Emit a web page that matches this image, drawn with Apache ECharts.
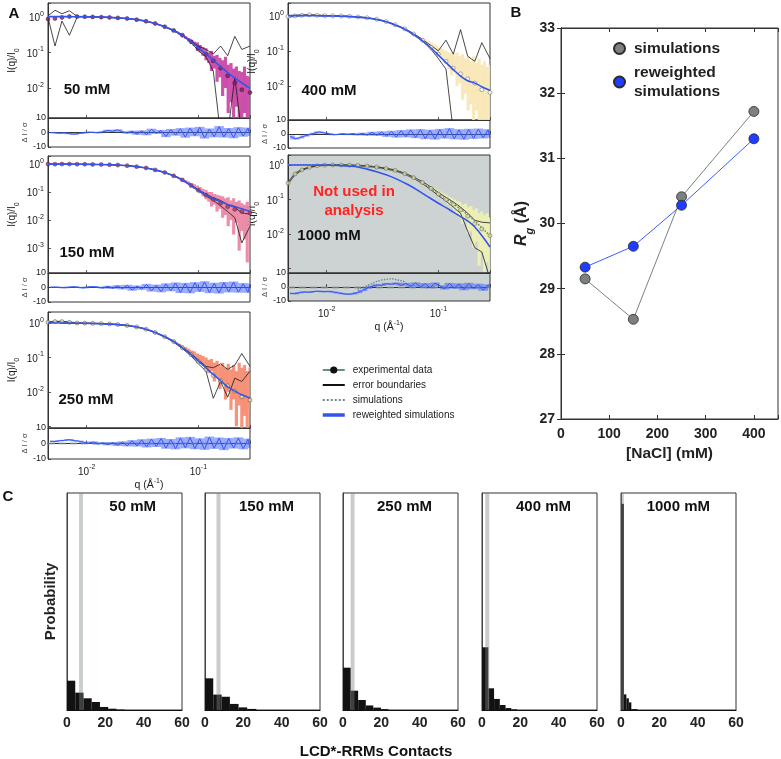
<!DOCTYPE html>
<html><head><meta charset="utf-8">
<script src="https://cdn.jsdelivr.net/npm/echarts/dist/echarts.min.js"></script>
<style>html,body{margin:0;padding:0;background:#fff}#c{width:781px;height:759px}</style>
</head><body><div id="c"></div>
<script>
// ================= DATA =================
// Panel A: q grids (Å^-1)
const qL = [0.0045,0.0052,0.006,0.007,0.0082,0.0096,0.0113,0.0135,0.016,0.019,0.023,0.028,0.034,0.041,0.05,0.06,0.072,0.086,0.1,0.117,0.136,0.158,0.183,0.212,0.245,0.29];
const qB = [0.060,0.064,0.068,0.072,0.077,0.082,0.087,0.092,0.098,0.104,0.110,0.117,0.124,0.131,0.139,0.147,0.156,0.165,0.175,0.185,0.196,0.207,0.219,0.232,0.245,0.259,0.274,0.29];
const qR = [0.0047,0.0052,0.0057,0.0063,0.0070,0.0077,0.0085,0.0094,0.0104,0.0115,0.0127,0.0140,0.0155,0.0171,0.0189,0.0209,0.0231,0.0255,0.0282,0.0311,0.0344,0.0380,0.0420,0.0464,0.0512,0.0566,0.0625,0.0690,0.0763,0.0843,0.0931,0.1029,0.1136,0.1255,0.1387,0.1532,0.1692,0.1870,0.2065,0.2282,0.2521,0.2785,0.29];
const concLabels = ['50 mM','150 mM','250 mM','400 mM','1000 mM'];

// reweighted simulations I(q)/I0 on qL
const fit50   = [1.0,1.0,1.0,0.995,0.99,0.985,0.975,0.965,0.95,0.92,0.88,0.82,0.74,0.64,0.52,0.41,0.3,0.2,0.135,0.09,0.06,0.04,0.027,0.019,0.014,0.0097];
const fit150  = [1.0,1.0,1.0,0.995,0.99,0.985,0.975,0.965,0.95,0.92,0.88,0.81,0.73,0.62,0.5,0.38,0.27,0.17,0.115,0.078,0.057,0.045,0.036,0.03,0.025,0.02];
const fit250  = [1.0,1.0,0.995,0.99,0.985,0.98,0.97,0.955,0.93,0.9,0.85,0.77,0.66,0.53,0.4,0.29,0.19,0.12,0.078,0.05,0.032,0.021,0.014,0.0105,0.0082,0.0066];
const fit400  = [1.0,1.0,1.0,0.995,0.99,0.985,0.975,0.96,0.94,0.91,0.86,0.78,0.67,0.54,0.41,0.29,0.19,0.12,0.075,0.046,0.029,0.019,0.014,0.012,0.0095,0.0075];
const fit1000 = [1.0,1.0,1.0,1.0,0.995,0.99,0.98,0.96,0.93,0.88,0.76,0.64,0.52,0.41,0.3,0.22,0.15,0.105,0.078,0.058,0.043,0.032,0.024,0.016,0.009,0.0042];
// simulations (1000 mM, where visible)
const sim1000 = [1.0,1.0,1.0,1.0,1.0,0.995,0.99,0.98,0.965,0.94,0.9,0.84,0.76,0.66,0.54,0.42,0.31,0.215,0.15,0.105,0.075,0.053,0.036,0.024,0.015,0.009];
// experimental data on qL
const exp50   = [0.85,0.88,0.95,1.0,1.0,0.99,0.98,0.965,0.95,0.92,0.88,0.82,0.74,0.64,0.52,0.41,0.3,0.2,0.13,0.088,0.058,0.036,0.022,0.014,0.009,0.0075];
const exp150  = [1.0,0.99,1.0,1.0,0.99,0.985,0.975,0.965,0.95,0.92,0.88,0.81,0.73,0.62,0.5,0.38,0.27,0.17,0.115,0.078,0.055,0.04,0.03,0.024,0.02,0.018];
const exp250  = [1.05,1.1,1.1,1.05,1.0,0.99,0.98,0.96,0.94,0.9,0.85,0.77,0.66,0.53,0.4,0.29,0.19,0.12,0.075,0.045,0.03,0.021,0.015,0.0105,0.0072,0.0058];
const exp400  = [0.95,0.98,1.02,1.05,1.02,1.0,0.99,0.975,0.955,0.92,0.87,0.79,0.68,0.55,0.42,0.3,0.2,0.125,0.08,0.05,0.032,0.022,0.016,0.012,0.0078,0.0065];
const exp1000 = [0.3,0.55,0.72,0.86,0.95,0.99,1.0,1.0,0.99,0.97,0.93,0.87,0.79,0.7,0.56,0.43,0.31,0.21,0.145,0.1,0.072,0.05,0.033,0.02,0.014,0.009];
// error boundaries on qL
const errU50   = [1.05,1.5,1.2,1.45,1.02,1.0,0.99,0.975,0.96,0.93,0.89,0.83,0.75,0.65,0.53,0.42,0.31,0.21,0.15,0.12,0.09,0.15,0.08,0.28,0.12,0.15];
const errL50   = [0.95,0.15,0.75,0.3,0.97,0.98,0.97,0.955,0.94,0.91,0.87,0.81,0.73,0.63,0.51,0.4,0.29,0.19,0.11,0.075,0.03,0.0005,0.0005,0.02,0.0005,0.0005];
const errU150  = [1.02,1.01,1.0,1.0,0.995,0.99,0.98,0.97,0.955,0.925,0.885,0.815,0.735,0.625,0.505,0.385,0.275,0.18,0.12,0.085,0.062,0.05,0.035,0.028,0.018,0.016];
const errL150  = [0.98,0.99,0.99,0.99,0.985,0.98,0.97,0.96,0.945,0.915,0.875,0.805,0.725,0.615,0.495,0.375,0.265,0.165,0.11,0.072,0.05,0.032,0.02,0.012,0.0015,0.006];
const errU250  = [1.1,1.12,1.12,1.07,1.02,1.0,0.99,0.97,0.95,0.91,0.86,0.78,0.67,0.54,0.41,0.3,0.2,0.13,0.085,0.055,0.05,0.065,0.045,0.06,0.13,0.055];
const errL250  = [1.0,1.08,1.08,1.03,0.98,0.98,0.97,0.95,0.93,0.89,0.84,0.76,0.65,0.52,0.39,0.28,0.18,0.11,0.065,0.04,0.0065,0.02,0.007,0.025,0.02,0.04];
const errU400  = [1.0,1.02,1.05,1.07,1.04,1.02,1.0,0.985,0.965,0.93,0.88,0.8,0.69,0.56,0.43,0.31,0.21,0.14,0.1,0.2,0.08,0.4,0.07,0.05,0.17,0.06];
const errL400  = [0.9,0.95,1.0,1.03,1.0,0.98,0.98,0.965,0.945,0.91,0.86,0.78,0.67,0.54,0.41,0.29,0.19,0.11,0.06,0.03,0.0005,0.0005,0.0005,0.0005,0.0005,0.0005];
const errU1000 = [0.32,0.58,0.75,0.88,0.97,1.01,1.02,1.02,1.01,0.99,0.95,0.89,0.81,0.72,0.58,0.45,0.33,0.23,0.16,0.115,0.085,0.06,0.04,0.025,0.022,0.021];
const errL1000 = [0.28,0.52,0.7,0.84,0.93,0.97,0.98,0.98,0.97,0.95,0.91,0.85,0.77,0.68,0.54,0.41,0.29,0.19,0.13,0.09,0.06,0.04,0.012,0.004,0.003,0.0005];
// experimental error band (high q) on qB
const hi50   = [0.43,0.39,0.35,0.32,0.28,0.25,0.22,0.2,0.19,0.16,0.14,0.13,0.1,0.11,0.08,0.085,0.07,0.06,0.075,0.045,0.05,0.035,0.04,0.03,0.028,0.04,0.022,0.02];
const lo50   = [0.39,0.35,0.31,0.28,0.24,0.2,0.17,0.15,0.11,0.1,0.08,0.06,0.05,0.03,0.035,0.015,0.02,0.006,0.01,0.002,0.004,0.001,0.003,0.001,0.001,0.002,0.001,0.001];
const hi150  = [0.4,0.37,0.33,0.3,0.27,0.24,0.21,0.19,0.17,0.15,0.13,0.12,0.1,0.1,0.085,0.08,0.075,0.07,0.06,0.065,0.05,0.06,0.045,0.05,0.04,0.035,0.045,0.03];
const lo150  = [0.36,0.33,0.29,0.25,0.22,0.19,0.16,0.13,0.11,0.09,0.07,0.055,0.045,0.03,0.035,0.02,0.025,0.012,0.015,0.006,0.01,0.003,0.008,0.0008,0.004,0.002,0.0003,0.006];
const hi250  = [0.3,0.27,0.25,0.22,0.2,0.18,0.16,0.15,0.13,0.12,0.11,0.1,0.085,0.09,0.07,0.08,0.06,0.07,0.05,0.065,0.045,0.06,0.04,0.07,0.05,0.06,0.04,0.05];
const lo250  = [0.27,0.24,0.21,0.18,0.16,0.14,0.12,0.1,0.085,0.07,0.06,0.045,0.035,0.04,0.02,0.025,0.012,0.018,0.006,0.01,0.003,0.006,0.001,0.004,0.0008,0.002,0.0009,0.003];
const hi400  = [0.31,0.28,0.26,0.23,0.21,0.19,0.17,0.15,0.14,0.12,0.11,0.1,0.09,0.085,0.08,0.09,0.07,0.08,0.06,0.07,0.05,0.07,0.045,0.06,0.04,0.05,0.035,0.04];
const lo400  = [0.28,0.25,0.22,0.2,0.17,0.15,0.13,0.11,0.09,0.075,0.06,0.045,0.03,0.02,0.025,0.01,0.012,0.004,0.006,0.002,0.003,0.0008,0.002,0.0006,0.001,0.0006,0.0008,0.0006];
const hi1000 = [0.45,0.41,0.37,0.33,0.3,0.27,0.24,0.21,0.19,0.17,0.15,0.14,0.12,0.11,0.1,0.09,0.085,0.07,0.075,0.06,0.065,0.05,0.055,0.04,0.045,0.035,0.04,0.03];
const lo1000 = [0.41,0.37,0.33,0.29,0.26,0.23,0.2,0.17,0.15,0.13,0.1,0.09,0.07,0.06,0.05,0.04,0.03,0.02,0.025,0.01,0.012,0.004,0.006,0.0012,0.003,0.0008,0.0015,0.0008];
// residuals ΔI/σ on qR
const res50   = [0,-0.2,-0.5,-0.3,-0.8,-1.2,-0.6,-0.3,0.2,0.1,-0.2,0.5,1.5,0.8,1.8,0.5,-0.4,0.9,-1.2,1.1,-1.5,2.2,-0.6,1.4,-2.8,2.0,-1.8,2.6,-3.2,3.0,-2.2,3.5,-3.8,2.4,-2.9,4.0,-3.1,2.7,-3.6,3.3,-2.5,3.0,-2.0];
const res150  = [0.2,0.3,0.1,-0.2,0.3,0.5,0.1,-0.3,0.4,0.6,0.2,-0.4,0.8,-0.6,1.2,-0.9,1.5,-1.8,1.0,-1.2,2.1,-2.4,1.6,-2.9,2.5,-2.2,3.1,-3.4,2.8,-3.6,3.3,-2.7,3.9,-3.5,2.9,-3.8,3.4,-3.0,3.7,-3.2,2.6,-3.3,2.4];
const res250  = [1.5,1.2,1.8,2.0,2.5,1.8,1.5,0.8,0.2,1.0,-0.3,0.5,-0.8,0.6,-1.2,1.0,-1.5,1.8,-1.6,2.4,-2.2,2.8,-1.9,3.2,-3.0,2.5,-3.4,3.6,-2.8,3.9,-3.3,3.0,-3.7,4.1,-3.1,3.5,-3.9,3.2,-2.9,3.6,-3.4,2.8,-2.6];
const res400  = [-1.5,-3.5,-2.8,-1.5,-0.5,0.5,1.5,0.8,0.2,-0.5,-0.3,0.2,-0.4,0.3,-0.6,0.5,-0.8,1.2,-0.9,1.5,-1.6,1.9,-2.2,2.4,-2.0,2.9,-2.6,3.1,-3.3,2.7,-3.6,3.2,-2.9,3.8,-3.4,3.0,-3.7,3.3,-3.1,3.5,-2.8,3.0,-2.4];
const res1000 = [-4.5,-4.8,-4.0,-3.5,-3.8,-3.2,-3.0,-3.4,-3.1,-3.6,-4.2,-4.8,-5.2,-4.9,-4.0,-2.5,-0.8,0.5,1.5,1.2,2.5,1.8,2.8,1.2,2.6,0.5,2.9,0.2,2.4,-0.6,2.8,0.9,-1.4,2.5,-0.8,2.2,-1.9,2.6,-1.2,1.9,-2.3,1.5,0.6];
const resSim1000 = [null,null,null,null,null,null,null,null,null,null,null,null,null,null,-1.5,-0.5,1.0,2.5,4.0,5.0,5.5,6.0,5.2,4.5,3.5,null,null,null,null,null,null,null,null,null,null,null,null,null,null,null,null,null,null];

// Panel B
const nacl  = [50,150,250,400];
const rgSim = [29.15,28.53,30.41,31.72];
const rgRew = [29.33,29.65,30.28,31.3];

// Panel C: histogram bin edges, probabilities, highlighted band
const hEdges50   = [0,4.3,8.6,12.9,17.2,21.5,25.8,30.1];
const hProb50    = [0.135,0.08,0.054,0.037,0.014,0.006,0.002];
const hEdges150  = [0,4.3,8.65,13,17.5,22,26.8];
const hProb150   = [0.146,0.071,0.061,0.028,0.012,0.005];
const hEdges250  = [0,4,7.9,11.9,15.8,19.8,23.7];
const hProb250   = [0.195,0.089,0.046,0.021,0.011,0.004];
const hEdges400  = [0,3.3,6.3,9.3,12.3,15.3,18.3];
const hProb400   = [0.289,0.1,0.051,0.023,0.009,0.003];
const hEdges1000 = [0,1.5,2.8,4.1,5.4,8.6];
const hProb1000  = [0.95,0.072,0.054,0.035,0.004];
const hBand      = [[6.3,8.3],[6.0,8.1],[4.0,6.0],[1.7,3.8],[0,1.5]];
const contactTicks = [0,20,40,60];

// ================= LAYOUT / STYLE =================
const FF = "'Liberation Sans', Arial, Helvetica, sans-serif";
const panelsA = [
  {fit:fit50, exp:exp50, eu:errU50, el:errL50, hi:hi50, lo:lo50, res:res50},
  {fit:fit150, exp:exp150, eu:errU150, el:errL150, hi:hi150, lo:lo150, res:res150},
  {fit:fit250, exp:exp250, eu:errU250, el:errL250, hi:hi250, lo:lo250, res:res250},
  {fit:fit400, exp:exp400, eu:errU400, el:errL400, hi:hi400, lo:lo400, res:res400},
  {fit:fit1000, exp:exp1000, eu:errU1000, el:errL1000, hi:hi1000, lo:lo1000, res:res1000}
];
const layA = [
  {l:48, t:3,   h:115, rt:118, rh:29, ymin:0.00145, ymax:2.4,  minExp:-2, lx:87,  ly:90},
  {l:48, t:156, h:117, rt:273, rh:29, ymin:0.000126,ymax:1.95, minExp:-3, lx:87,  ly:253},
  {l:48, t:312, h:116, rt:428, rh:31, ymin:0.00089, ymax:2.09, minExp:-2, lx:86,  ly:400},
  {l:288,t:3,   h:117, rt:120, rh:28, ymin:0.00107, ymax:2.29, minExp:-2, lx:329, ly:91},
  {l:288,t:155, h:118, rt:273, rh:28, ymin:0.00074, ymax:1.95, minExp:-2, lx:329, ly:236}
];
const styA = [
  {band:'#c63fa2', dot:'#7d2060', dotB:'#4a1040'},
  {band:'#ea82a0', dot:'#a83a5a', dotB:'#6a2030'},
  {band:'#f6876c', dot:'#ecdf92', dotB:'#444'},
  {band:'#f8e7b2', dot:'#ffffff', dotB:'#555'},
  {band:'#eef2b2', dot:'#dcdc98', dotB:'#555'}
];
const cLefts = [67,205,343,482,621];
const hists = [[hEdges50,hProb50],[hEdges150,hProb150],[hEdges250,hProb250],[hEdges400,hProb400],[hEdges1000,hProb1000]];

function powLabelFrom(minExp){
  return function(v){
    const e = Math.log10(v), r = Math.round(e);
    if (Math.abs(e - r) > 1e-6 || r < minExp) return '';
    return '{b|10}{s|' + r + '}';
  };
}
const supRich = {
  b:{fontSize:10, fontFamily:FF, color:'#222', lineHeight:13, verticalAlign:'bottom'},
  s:{fontSize:7, fontFamily:FF, color:'#222', lineHeight:7, verticalAlign:'top'}
};
function clipTo(r, cs){
  return echarts.graphic.clipRectByRect(r, {x:cs.x, y:cs.y, width:cs.width, height:cs.height});
}
function bandItem(params, api){
  const q = api.value(0), lo = api.value(1), hi = api.value(2);
  const p1 = api.coord([q, hi]), p2 = api.coord([q, lo]);
  const r = clipTo({x:p1[0]-1.6, y:p1[1], width:3.2, height:p2[1]-p1[1]}, params.coordSys);
  return r ? {type:'rect', shape:r, style:{fill:api.visual('color'), opacity:0.9}} : null;
}
// fuzz between consecutive residual points
function fuzzItem(params, api){
  const x0 = api.value(0), x1 = api.value(1), a = api.value(2), b = api.value(3);
  const p = api.coord([x0, Math.max(a, b)]), q = api.coord([x1, Math.min(a, b)]);
  const r = clipTo({x:p[0], y:p[1]-0.6, width:q[0]-p[0], height:q[1]-p[1]+1.2}, params.coordSys);
  return r ? {type:'rect', shape:r, style:{fill:api.visual('color')}} : null;
}
function rectItem(params, api){
  const a = api.coord([api.value(0), api.value(2)]);
  const b = api.coord([api.value(1), 0]);
  return {type:'rect', shape:{x:a[0], y:a[1], width:b[0]-a[0], height:b[1]-a[1]}, style:{fill:api.visual('color')}};
}

const grid = [], xAxis = [], yAxis = [], series = [], graphic = [];
const tickIn = {show:true, inside:true, length:3, lineStyle:{color:'#333', width:0.8}};
const lineAx = {show:true, lineStyle:{color:'#333', width:1}};

// ---- Panel A grids/axes ----
layA.forEach((L, i) => {
  const gray = i === 4;
  grid.push({left:L.l, top:L.t, width:202, height:L.h, show:true, borderColor:'#333', borderWidth:1,
             backgroundColor: gray ? '#cdd3d2' : 'transparent', outerBoundsMode:'none'});
  grid.push({left:L.l, top:L.rt, width:202, height:L.rh, show:true, borderColor:'#333', borderWidth:1,
             backgroundColor: gray ? '#cdd3d2' : 'transparent', outerBoundsMode:'none'});
  const gm = 2*i, gr = 2*i+1;
  xAxis.push({type:'log', gridIndex:gm, min:0.0045, max:0.29, axisLine:lineAx, axisTick:tickIn,
              axisLabel:{show:false}, splitLine:{show:false}});
  const bottom = (i === 2 || i === 4);
  xAxis.push({type:'log', gridIndex:gr, min:0.0045, max:0.29, axisLine:lineAx, axisTick:tickIn,
              axisLabel:{show:bottom, formatter:powLabelFrom(-9), rich:supRich, margin:5},
              splitLine:{show:false},
              name: bottom ? '{n|q (Å}{s|-1}{n|)}' : '', nameLocation:'middle', nameGap:15,
              nameTextStyle:{rich:{n:{fontSize:10.5, fontFamily:FF, color:'#222', lineHeight:13, verticalAlign:'bottom'},
                                    s:{fontSize:7, fontFamily:FF, color:'#222', lineHeight:7, verticalAlign:'top'}}}});
  yAxis.push({type:'log', gridIndex:gm, min:L.ymin, max:L.ymax, axisLine:lineAx, axisTick:tickIn,
              axisLabel:{formatter:powLabelFrom(L.minExp), rich:supRich, margin:4}, splitLine:{show:false},
              name:'{n|I(q)/I}{d|0}', nameLocation:'middle', nameRotate:90, nameGap:27,
              nameTextStyle:{rich:{n:{fontSize:10, fontFamily:FF, color:'#222', lineHeight:12, verticalAlign:'top'},
                                    d:{fontSize:7, fontFamily:FF, color:'#222', lineHeight:14, verticalAlign:'bottom'}}}});
  yAxis.push({type:'value', gridIndex:gr, min:-10, max:10, interval:10, axisLine:lineAx, axisTick:tickIn,
              axisLabel:{fontSize:9, fontFamily:FF, color:'#222', margin:2}, splitLine:{show:false},
              name:'Δ I / σ', nameLocation:'middle', nameRotate:90, nameGap:14,
              nameTextStyle:{fontSize:7.5, fontFamily:FF, color:'#444'}});
});

// ---- Panel B grid/axes (index 10) ----
grid.push({left:561, top:28, width:217, height:391, show:true, borderColor:'#333', borderWidth:1, outerBoundsMode:'none'});
xAxis.push({type:'value', gridIndex:10, min:0, max:450, interval:100, axisLine:lineAx,
            axisTick:{show:true, inside:true, length:4, lineStyle:{color:'#333'}},
            axisLabel:{fontSize:14, fontWeight:'bold', fontFamily:FF, color:'#222', margin:8,
                       formatter:v => (v % 100 === 0 ? String(v) : '')},
            splitLine:{show:false}, name:'[NaCl] (mM)', nameLocation:'middle', nameGap:27,
            nameTextStyle:{fontSize:15.5, fontWeight:'bold', fontFamily:FF, color:'#222'}});
yAxis.push({type:'value', gridIndex:10, min:27, max:33, interval:1, axisLine:lineAx,
            axisTick:{show:true, inside:true, length:4, lineStyle:{color:'#333'}},
            axisLabel:{fontSize:14, fontWeight:'bold', fontFamily:FF, color:'#222', margin:6},
            splitLine:{show:false}, name:'{i|R}{g|g}{n| (Å)}', nameLocation:'middle', nameRotate:90, nameGap:25,
            nameTextStyle:{rich:{
              i:{fontSize:16, fontWeight:'bold', fontStyle:'italic', fontFamily:FF, color:'#222', lineHeight:18, verticalAlign:'top'},
              g:{fontSize:11, fontWeight:'bold', fontStyle:'italic', fontFamily:FF, color:'#222', lineHeight:22, verticalAlign:'bottom'},
              n:{fontSize:16, fontWeight:'bold', fontFamily:FF, color:'#222', lineHeight:18, verticalAlign:'top'}}}});

// ---- Panel C grids/axes (11..15) ----
cLefts.forEach((l, i) => {
  grid.push({left:l, top:493, width:115, height:217, show:true, borderColor:'#333', borderWidth:1, outerBoundsMode:'none'});
  xAxis.push({type:'value', gridIndex:11+i, min:contactTicks[0], max:contactTicks[3], interval:20,
              axisLine:{show:true, lineStyle:{color:'#111', width:1.2}}, axisTick:{show:false},
              axisLabel:{fontSize:14, fontWeight:'bold', fontFamily:FF, color:'#222', margin:6},
              splitLine:{show:false}});
  yAxis.push({type:'value', gridIndex:11+i, min:0, max:1, axisLine:{show:true, lineStyle:{color:'#444'}},
              axisTick:{show:false}, axisLabel:{show:false}, splitLine:{show:false},
              name: i === 0 ? 'Probability' : '', nameLocation:'middle', nameRotate:90, nameGap:9,
              nameTextStyle:{fontSize:15, fontWeight:'bold', fontFamily:FF, color:'#222'}});
});
// mirrored B axes (index 16)
xAxis.push({type:'value', gridIndex:10, position:'top', min:0, max:450, interval:100, axisLine:lineAx,
            axisTick:{show:true, inside:true, length:4, lineStyle:{color:'#333'}}, axisLabel:{show:false}, splitLine:{show:false}});
yAxis.push({type:'value', gridIndex:10, position:'right', min:27, max:33, interval:1, axisLine:lineAx,
            axisTick:{show:true, inside:true, length:4, lineStyle:{color:'#333'}}, axisLabel:{show:false}, splitLine:{show:false}});

// ---- legend dummy series (Panel A legend) ----
series.push({name:'experimental data', type:'line', xAxisIndex:0, yAxisIndex:0, data:[], symbol:'circle', symbolSize:8,
             itemStyle:{color:'#111'}, lineStyle:{color:'#5f8f8f', width:1.5}});
series.push({name:'error boundaries', type:'line', xAxisIndex:0, yAxisIndex:0, data:[], symbol:'none',
             itemStyle:{color:'#111'}, lineStyle:{color:'#111', width:1.2}});
series.push({name:'simulations', type:'line', xAxisIndex:0, yAxisIndex:0, data:[], symbol:'none',
             itemStyle:{color:'#6f8585'}, lineStyle:{color:'#6f8585', width:2, type:'dotted'}});
series.push({name:'reweighted simulations', type:'line', xAxisIndex:0, yAxisIndex:0, data:[], symbol:'none',
             itemStyle:{color:'#3355ee'}, lineStyle:{color:'#3355ee', width:3}});

// ---- Panel A series ----
panelsA.forEach((P, i) => {
  const gm = 2*i, gr = 2*i+1, S = styA[i];
  series.push({type:'custom', xAxisIndex:gm, yAxisIndex:gm, renderItem:bandItem, z:1,
               itemStyle:{color:S.band}, encode:{x:0, y:[1,2]},
               data:qB.map((q,k) => [q, P.lo[k], P.hi[k]])});
  series.push({type:'line', xAxisIndex:gm, yAxisIndex:gm, symbol:'none', z:2,
               lineStyle:{color:'#1a1a1a', width:0.8}, data:qL.map((q,k) => [q, P.eu[k]])});
  series.push({type:'line', xAxisIndex:gm, yAxisIndex:gm, symbol:'none', z:2,
               lineStyle:{color:'#1a1a1a', width:0.8}, data:qL.map((q,k) => [q, P.el[k]])});
  if (i === 4) {
    series.push({type:'line', xAxisIndex:gm, yAxisIndex:gm, symbol:'none', z:3,
                 lineStyle:{color:'#6f8585', width:1.5, type:'dotted'}, data:qL.map((q,k) => [q, sim1000[k]])});
  }
  series.push({type:'scatter', xAxisIndex:gm, yAxisIndex:gm, symbol:'circle', symbolSize:4, z:3,
               itemStyle:{color:S.dot, borderColor:S.dotB, borderWidth:0.6},
               data:qL.map((q,k) => [q, P.exp[k]])});
  series.push({type:'line', xAxisIndex:gm, yAxisIndex:gm, symbol:'none', smooth:0.3, z:4,
               lineStyle:{color:'#3355ee', width:1.6}, data:qL.map((q,k) => [q, P.fit[k]])});
  // residual fuzz band + line
  series.push({type:'custom', xAxisIndex:gr, yAxisIndex:gr, renderItem:fuzzItem, z:3,
               itemStyle:{color:'rgba(70,100,250,0.55)'}, encode:{x:[0,1], y:[2,3]},
               data:qR.slice(0, -1).map((q,k) => [q, qR[k+1], P.res[k], P.res[k+1]])});
  const resSeries = {type:'line', xAxisIndex:gr, yAxisIndex:gr, symbol:'none', z:4,
               lineStyle:{color:'#3358f5', width:1}, data:qR.map((q,k) => [q, P.res[k]])};
  if (i === 2 || i === 4) {
    resSeries.markLine = {silent:true, symbol:'none', label:{show:false}, data:[{yAxis:0}], z:2,
                          lineStyle:{color:'#777', width:1.4, type:[7,4]}};
  }
  series.push(resSeries);
  if (i === 4) {
    series.push({type:'line', xAxisIndex:gr, yAxisIndex:gr, symbol:'none', z:3, connectNulls:false,
                 lineStyle:{color:'#6f8585', width:1.4, type:'dotted'}, data:qR.map((q,k) => [q, resSim1000[k]])});
  }
  graphic.push({type:'text', x:layA[i].lx, y:layA[i].ly, z:100,
                style:{text:concLabels[i], font:'bold 15px ' + FF, fill:'#111', align:'center', verticalAlign:'middle'}});
});

// ---- Panel B series ----
series.push({name:'B_sim', type:'line', xAxisIndex:10, yAxisIndex:10, symbol:'circle', symbolSize:10, z:3,
             itemStyle:{color:'#7b817e', borderColor:'#2b2b2b', borderWidth:0.8},
             lineStyle:{color:'#7b817e', width:1}, data:nacl.map((x,k) => [x, rgSim[k]])});
series.push({name:'B_rew', type:'line', xAxisIndex:10, yAxisIndex:10, symbol:'circle', symbolSize:10, z:4,
             itemStyle:{color:'#1f3dff', borderColor:'#2b2b2b', borderWidth:0.8},
             lineStyle:{color:'#3d5cff', width:1}, data:nacl.map((x,k) => [x, rgRew[k]])});

// ---- Panel C series ----
hists.forEach((H, i) => {
  const [edges, probs] = H;
  series.push({type:'custom', xAxisIndex:11+i, yAxisIndex:11+i, renderItem:rectItem, z:2,
               itemStyle:{color:'#121212'}, encode:{x:[0,1], y:2},
               data:probs.map((p,k) => [edges[k], edges[k+1], p])});
  series.push({type:'custom', xAxisIndex:11+i, yAxisIndex:11+i, renderItem:rectItem, z:3,
               itemStyle:{color:'rgba(125,135,132,0.42)'}, encode:{x:[0,1], y:2},
               data:[[hBand[i][0], hBand[i][1], 1]]});
  graphic.push({type:'text', x:cLefts[i] + 89, y:507, z:100,
                style:{text:concLabels[i], font:'bold 15px ' + FF, fill:'#111', align:'right', verticalAlign:'middle'}});
});

// ---- other texts ----
graphic.push({type:'text', x:14, y:14, z:100, style:{text:'A', font:'bold 15px ' + FF, fill:'#111', align:'center', verticalAlign:'middle'}});
graphic.push({type:'text', x:516, y:13, z:100, style:{text:'B', font:'bold 15px ' + FF, fill:'#111', align:'center', verticalAlign:'middle'}});
graphic.push({type:'text', x:8, y:497, z:100, style:{text:'C', font:'bold 15px ' + FF, fill:'#111', align:'center', verticalAlign:'middle'}});
graphic.push({type:'text', x:354, y:201, z:100, style:{text:'Not used in\nanalysis', font:'bold 15px ' + FF, lineHeight:19,
              fill:'#ff2323', align:'center', verticalAlign:'middle'}});
graphic.push({type:'text', x:376, y:752, z:100, style:{text:'LCD*-RRMs Contacts', font:'bold 15px ' + FF, fill:'#111', align:'center', verticalAlign:'middle'}});

const option = {
  animation:false,
  backgroundColor:'#ffffff',
  textStyle:{fontFamily:FF},
  grid, xAxis, yAxis, series, graphic,
  legend:[
    {orient:'vertical', left:316, top:360, itemWidth:22, itemHeight:9, itemGap:5, selectedMode:false,
     data:[{name:'experimental data'},
           {name:'error boundaries', itemStyle:{opacity:0}},
           {name:'simulations', itemStyle:{opacity:0}},
           {name:'reweighted simulations', itemStyle:{opacity:0}, lineStyle:{width:3.5}}],
     textStyle:{fontSize:10, fontFamily:FF, color:'#222', padding:[0,0,0,3]}},
    {orient:'vertical', left:608, top:34, itemWidth:11, itemHeight:11, itemGap:5, icon:'circle', selectedMode:false,
     data:['B_sim','B_rew'],
     formatter: n => (n === 'B_sim' ? 'simulations' : 'reweighted\nsimulations'),
     textStyle:{fontSize:15.5, fontWeight:'bold', fontFamily:FF, color:'#222', lineHeight:19, padding:[0,0,0,4]}}
  ]
};
const chart = echarts.init(document.getElementById('c'), null, {renderer:'canvas'});
chart.setOption(option);
</script>
</body></html>
